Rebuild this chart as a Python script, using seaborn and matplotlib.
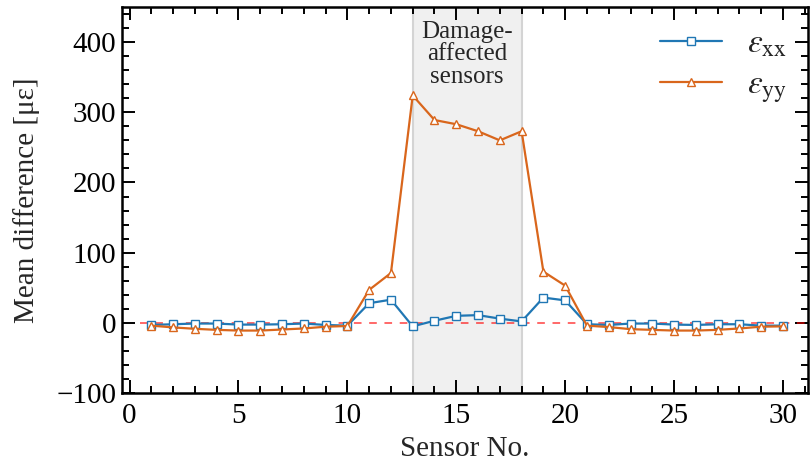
import numpy as np
import pandas as pd
import matplotlib
matplotlib.use("Agg")
import matplotlib.pyplot as plt
from matplotlib.ticker import MultipleLocator
import seaborn as sns

# Mean strain difference per sensor
sensors = list(range(1, 31))
eps_xx = [-3, -2, -1, -1, -2.5, -2.5, -2, -1, -3, -4,
          28, 33, -5, 3, 10, 11, 6, 2, 36, 32,
          -2, -3, -1, -1, -2.5, -3, -2, -2, -4, -4]
eps_yy = [-4, -6.5, -8.5, -10, -11, -11, -9.5, -8, -5.5, -4.5,
          47, 71, 324, 289, 283, 273, 260, 273, 73, 53,
          -4, -6, -9, -10, -11, -11, -10, -8, -5.5, -5]
damage_span = (13, 18)
x_ticks = [0, 5, 10, 15, 20, 25, 30]
y_ticks = [-100, 0, 100, 200, 300, 400]

sns.set_theme(style="ticks")
plt.rcParams.update({
    "font.family": ["Liberation Serif", "DejaVu Serif"],
    "mathtext.fontset": "stix",
    "axes.linewidth": 1.8,
    "xtick.direction": "in",
    "ytick.direction": "in",
    "xtick.top": True,
    "ytick.right": True,
    "xtick.major.size": 9.5,
    "ytick.major.size": 9.5,
    "xtick.minor.size": 5,
    "ytick.minor.size": 5,
    "xtick.major.width": 1.4,
    "ytick.major.width": 1.4,
    "xtick.minor.width": 1.4,
    "ytick.minor.width": 1.4,
    "xtick.color": "black",
    "ytick.color": "black",
    "axes.edgecolor": "black",
})

df = pd.DataFrame({"sensor": sensors, "xx": eps_xx, "yy": eps_yy})

fig = plt.figure(figsize=(8.11, 4.69), dpi=100)
ax = fig.add_axes([0.1504, 0.162, 0.8459, 0.823])

ax.axvspan(*damage_span, facecolor="#f0f0f0", edgecolor="#d4d4d4", lw=1.5, zorder=0)
ax.hlines(0, 0.5, 31, colors="red", linestyles=(0, (5, 5)), lw=1.1, alpha=0.75, zorder=1)

blue = "#2077b4"
orange = "#d9661c"
sns.lineplot(data=df, x="sensor", y="xx", ax=ax, color=blue, lw=1.6,
             marker="s", markersize=5.5, markerfacecolor="white",
             markeredgecolor=blue, markeredgewidth=1.0,
             label=r"$\varepsilon_{\mathrm{xx}}$", zorder=3)
sns.lineplot(data=df, x="sensor", y="yy", ax=ax, color=orange, lw=1.6,
             marker="^", markersize=5.5, markerfacecolor="white",
             markeredgecolor=orange, markeredgewidth=1.0,
             label=r"$\varepsilon_{\mathrm{yy}}$", zorder=3)

ax.text(15.5, 430, "Damage-\naffected\nsensors", ha="center", va="top",
        fontsize=18, linespacing=1.02)

ax.set_xlim(-0.35, 31.15)
ax.set_ylim(-100, 450)
ax.set_xticks(x_ticks)
ax.set_yticks(y_ticks)
ax.set_yticklabels(["\u2212100" if v < 0 else str(v) for v in y_ticks])
ax.xaxis.set_minor_locator(MultipleLocator(1))
ax.yaxis.set_minor_locator(MultipleLocator(20))
ax.tick_params(labelsize=21)
ax.tick_params(axis="x", pad=7)
ax.tick_params(axis="y", pad=4)
ax.set_xlabel("Sensor No.", fontsize=21, labelpad=5)
ax.set_ylabel("Mean difference [\u03bc\u03b5]", fontsize=21, labelpad=12)

ax.legend(loc="upper right", frameon=False, fontsize=24,
          handlelength=1.85, labelspacing=0.32, borderaxespad=0.25,
          handletextpad=0.75, borderpad=0.4)

fig.savefig("out.png", dpi=100)
